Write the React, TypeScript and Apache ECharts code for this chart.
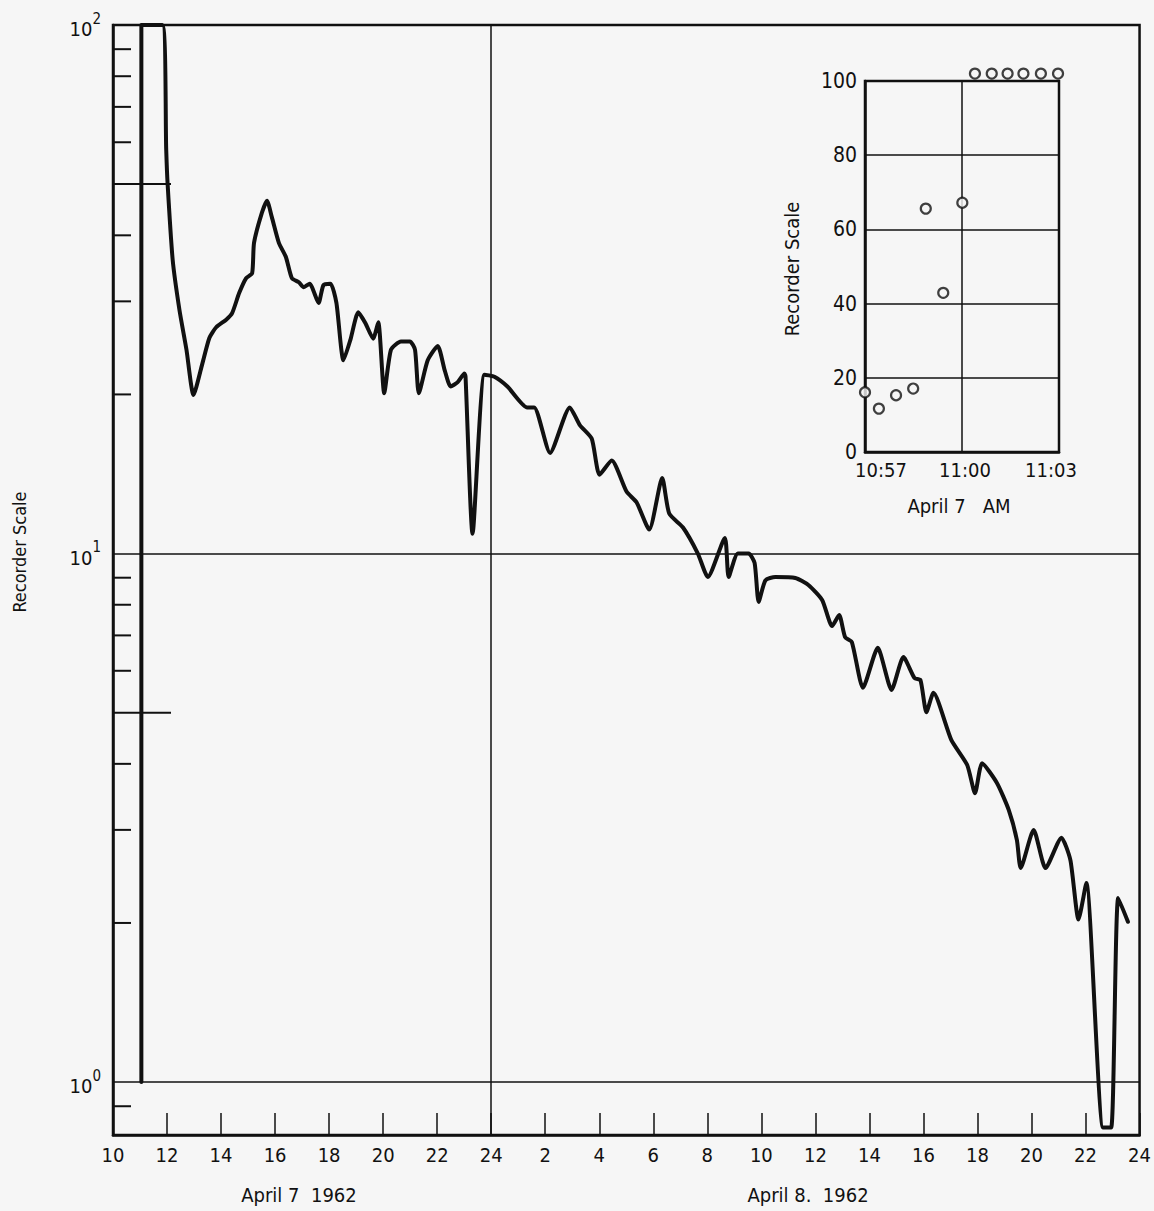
import React, { useEffect, useRef } from "react";
import * as echarts from "echarts";

// Main curve: hours since 00:00 April 7 1962, recorder scale value
const hours: number[] = [
  11.05, 11.05, 11.83, 11.97, 12.02, 12.21, 12.46, 12.72, 12.98, 13.31, 13.57, 13.82, 14.19, 14.41,
  14.67, 14.93, 15.15, 15.22, 15.51, 15.7, 15.88, 16.14, 16.4, 16.62, 16.88, 17.06, 17.28, 17.61,
  17.79, 18.05, 18.27, 18.53, 18.79, 19.08, 19.34, 19.63, 19.82, 20.04, 20.29, 20.66, 20.99, 21.18,
  21.32, 21.65, 22.02, 22.28, 22.5, 22.76, 23.01, 23.05, 23.31, 23.75, 24.12, 24.6, 25.33, 25.59,
  26.18, 26.91, 27.28, 27.72, 28.01, 28.46, 29.01, 29.38, 29.85, 30.33, 30.59, 31.1, 31.65, 32.02,
  32.65, 32.79, 33.13, 33.53, 33.75, 33.9, 34.15, 34.52, 35.26, 35.74, 36.25, 36.62, 36.88, 37.1,
  37.35, 37.76, 38.31, 38.82, 39.26, 39.67, 39.89, 40.11, 40.37, 41.03, 41.62, 41.91, 42.17, 42.72,
  43.16, 43.46, 43.6, 44.08, 44.52, 45.11, 45.44, 45.74, 46.03, 46.65, 46.95, 47.21, 47.57,
];
const readings: number[] = [
  1.0, 100, 100, 58.0, 50.2, 35.9, 28.9, 24.3, 19.95, 22.9, 25.6, 26.8, 27.7, 28.5,
  31.1, 33.2, 33.9, 38.7, 44.1, 46.5, 43.3, 38.7, 36.4, 33.2, 32.6, 31.9, 32.4, 29.8,
  32.2, 32.4, 29.8, 23.2, 25.4, 28.6, 27.3, 25.5, 27.4, 20.1, 24.3, 25.2, 25.2, 24.3,
  20.1, 23.2, 24.7, 22.2, 20.7, 21.1, 21.9, 21.6, 10.9, 21.8, 21.6, 20.7, 18.9, 18.9,
  15.5, 18.9, 17.5, 16.5, 14.1, 15.0, 13.1, 12.5, 11.1, 13.9, 11.9, 11.2, 10.0, 9.03,
  10.7, 9.03, 10.0, 10.0, 9.6, 8.1, 8.9, 9.03, 8.99, 8.72, 8.17, 7.29, 7.65, 6.95,
  6.8, 5.57, 6.63, 5.52, 6.37, 5.81, 5.76, 5.01, 5.45, 4.44, 3.98, 3.52, 4.01, 3.68,
  3.27, 2.87, 2.54, 3.0, 2.54, 2.9, 2.63, 2.03, 2.38, 0.82, 0.82, 2.23, 2.01,
];

// Left-axis minor tick values (log axis)
const minorTicks: number[] = [90, 80, 70, 60, 50, 40, 30, 20, 9, 8, 7, 6, 5, 4, 3, 2, 0.9];
const longTicks: number[] = [50, 5];
const gridHours: number[] = [24];

// Inset: minutes after 10:57, recorder scale
const insetMinutes: number[] = [0, 0.43, 0.96, 1.49, 1.88, 2.42, 3.01, 3.4, 3.92, 4.41, 4.9, 5.44, 5.97];
const insetValues: number[] = [16.1, 11.7, 15.3, 17.1, 65.6, 42.9, 67.2, 102, 102, 102, 102, 102, 102];
const insetTickLabels: Record<number, string> = { 0: "10:57", 3: "11:00", 6: "11:03" };

const FONT = "'Liberation Sans Narrow', 'DejaVu Sans Condensed', 'Roboto Condensed', sans-serif";
const INK = "#111111";
const BG = "#f6f6f6";

export default function App() {
  const ref = useRef<HTMLDivElement>(null);

  useEffect(() => {
    if (!ref.current) return;
    const chart = echarts.init(ref.current, undefined, { renderer: "svg" });

    const mainData = hours.map((h, i) => [h, readings[i]]);
    const insetData = insetMinutes.map((m, i) => [m, insetValues[i]]);

    const option: any = {
      animation: false,
      backgroundColor: BG,
      textStyle: { fontFamily: FONT, color: INK },
      grid: [
        {
          left: 113,
          top: 25,
          right: 7,
          bottom: 76,
          show: true,
          borderColor: INK,
          borderWidth: 2.5,
          backgroundColor: "transparent",
        },
        {
          left: 865,
          top: 81,
          width: 194,
          height: 371,
          show: true,
          borderColor: INK,
          borderWidth: 2.5,
          backgroundColor: "transparent",
        },
      ],
      xAxis: [
        {
          type: "value",
          gridIndex: 0,
          min: 10,
          max: 48,
          interval: 2,
          axisLine: { show: true, lineStyle: { color: INK, width: 2.5 } },
          axisTick: { show: true, inside: true, length: 22, lineStyle: { color: INK, width: 1.5 } },
          splitLine: { show: false },
          axisLabel: {
            fontFamily: FONT,
            fontSize: 20,
            color: INK,
            margin: 10,
            formatter: (v: number) => String(v > 24 ? v - 24 : v),
          },
        },
        {
          type: "value",
          gridIndex: 1,
          min: 0,
          max: 6,
          interval: 3,
          axisLine: { show: true, lineStyle: { color: INK, width: 2.5 } },
          axisTick: { show: false },
          splitLine: { show: true, lineStyle: { color: INK, width: 1.5 } },
          axisLabel: {
            margin: 8,
            formatter: (v: number) => {
              const t = insetTickLabels[v] ?? "";
              if (v === 0) return "{l|" + t + "}";
              if (v === 6) return "{r|" + t + "}";
              return "{c|" + t + "}";
            },
            rich: {
              l: { fontFamily: FONT, fontSize: 20, color: INK, padding: [0, 0, 0, 32] },
              c: { fontFamily: FONT, fontSize: 20, color: INK, padding: [0, 0, 0, 6] },
              r: { fontFamily: FONT, fontSize: 20, color: INK, padding: [0, 16, 0, 0] },
            },
          },
        },
      ],
      yAxis: [
        {
          type: "log",
          logBase: 10,
          gridIndex: 0,
          min: 0.794,
          max: 100,
          axisLine: { show: true, lineStyle: { color: INK, width: 2.5 } },
          axisTick: { show: false },
          splitLine: { show: true, lineStyle: { color: INK, width: 1.5 } },
          axisLabel: {
            margin: 12,
            formatter: (v: number) => {
              const e = Math.log10(v);
              const r = Math.round(e);
              if (Math.abs(e - r) > 1e-6) return "";
              return "{b|10}{s|" + r + "}";
            },
            rich: {
              b: { fontFamily: FONT, fontSize: 20, color: INK, verticalAlign: "bottom", padding: [8, 0, 0, 0] },
              s: { fontFamily: FONT, fontSize: 15, color: INK, verticalAlign: "top", padding: [0, 0, 8, 0] },
            },
          },
        },
        {
          type: "value",
          gridIndex: 1,
          min: 0,
          max: 100,
          interval: 20,
          axisLine: { show: true, lineStyle: { color: INK, width: 2.5 } },
          axisTick: { show: false },
          splitLine: { show: true, lineStyle: { color: INK, width: 1.5 } },
          axisLabel: { fontFamily: FONT, fontSize: 21, color: INK, margin: 8 },
        },
      ],
      graphic: [
        {
          type: "text",
          x: 19,
          y: 552,
          rotation: Math.PI / 2,
          style: { text: "Recorder Scale", fontFamily: FONT, fontSize: 18, fill: INK, align: "center", verticalAlign: "middle" },
        },
        {
          type: "text",
          x: 299,
          y: 1195,
          style: { text: "April 7  1962", fontFamily: FONT, fontSize: 20, fill: INK, align: "center", verticalAlign: "middle" },
        },
        {
          type: "text",
          x: 808,
          y: 1195,
          style: { text: "April 8.  1962", fontFamily: FONT, fontSize: 20, fill: INK, align: "center", verticalAlign: "middle" },
        },
        {
          type: "text",
          x: 792,
          y: 269,
          rotation: Math.PI / 2,
          style: { text: "Recorder Scale", fontFamily: FONT, fontSize: 20, fill: INK, align: "center", verticalAlign: "middle" },
        },
        {
          type: "text",
          x: 959,
          y: 506,
          style: { text: "April 7   AM", fontFamily: FONT, fontSize: 20, fill: INK, align: "center", verticalAlign: "middle" },
        },
      ],
      series: [
        {
          type: "line",
          xAxisIndex: 0,
          yAxisIndex: 0,
          data: mainData,
          showSymbol: false,
          symbol: "none",
          smooth: 0.2,
          lineStyle: { color: INK, width: 4, join: "round", cap: "round" },
          silent: true,
          z: 5,
          markLine: {
            silent: true,
            symbol: "none",
            label: { show: false },
            lineStyle: { color: INK, width: 1.5, type: "solid" },
            data: gridHours.map((h) => ({ xAxis: h })),
          },
        },
        {
          type: "custom",
          xAxisIndex: 0,
          yAxisIndex: 0,
          silent: true,
          clip: false,
          data: minorTicks.map((v) => [10, v]),
          renderItem: (params: any, api: any) => {
            const v = api.value(1);
            const p = api.coord([10, v]);
            const len = longTicks.indexOf(v) >= 0 ? 58 : 18;
            return {
              type: "line",
              shape: { x1: p[0], y1: p[1], x2: p[0] + len, y2: p[1] },
              style: { stroke: INK, lineWidth: 2 },
            };
          },
        },
        {
          type: "scatter",
          xAxisIndex: 1,
          yAxisIndex: 1,
          data: insetData,
          clip: false,
          symbol: "circle",
          symbolSize: 10,
          silent: true,
          itemStyle: { color: BG, borderColor: INK, borderWidth: 2.2 },
          z: 6,
        },
      ],
    };

    chart.setOption(option);
    return () => chart.dispose();
  }, []);

  return (
    <div
      ref={ref}
      style={{ position: "absolute", left: 0, top: 0, width: 1154, height: 1211 }}
    />
  );
}
